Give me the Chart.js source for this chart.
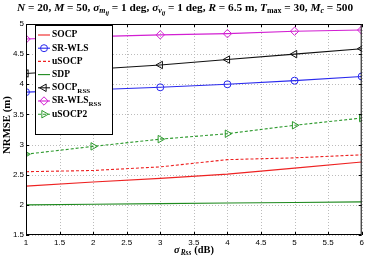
<!DOCTYPE html>
<html>
<head>
<meta charset="utf-8">
<script src="https://cdn.jsdelivr.net/npm/chart.js@4.4.1/dist/chart.umd.min.js"></script>
<style>
  body { margin: 0; background: #fff; }
  #wrap { position: relative; width: 367px; height: 257px; }
  .lab { position: absolute; font-family: "Liberation Serif", "Times New Roman", serif; font-weight: bold; color: #000; white-space: nowrap; }
  .lab sub { font-size: 70%; vertical-align: -0.3em; line-height: 0; }
  .lab sub sub { font-size: 80%; vertical-align: -0.25em; }
</style>
</head>
<body>
<div id="wrap">
  <canvas id="c" width="367" height="257"></canvas>
  <div class="lab" id="title" style="left:0;width:370px;top:1px;text-align:center;font-size:11.3px;">
    <i>N</i> = 20, <i>M</i> = 50, <i>σ</i><sub><i>m</i><sub><i>ij</i></sub></sub> = 1 deg, <i>σ</i><sub><i>v</i><sub><i>ij</i></sub></sub> = 1 deg, <i>R</i> = 6.5 m, <i>T</i><sub>max</sub> = 30, <i>M</i><sub><i>c</i></sub> = 500
  </div>
  <div class="lab" id="ylab" style="left:-24px;top:119px;width:60px;text-align:center;font-size:10.8px;transform:rotate(-90deg);">NRMSE (m)</div>
  <div class="lab" id="xlab" style="left:144px;width:100px;top:244px;text-align:center;font-size:10.4px;"><i>σ</i><sub><i style="margin-left:1px;margin-right:3px;">Rss</i></sub>(dB)</div>
</div>
<script>
// x axis: sigma_Rss (dB)
var xValues = [1, 2, 3, 4, 5, 6];

var socp     = [2.31, 2.38, 2.44, 2.51, 2.61, 2.71];
var srwls    = [3.87, 3.91, 3.95, 4.00, 4.06, 4.13];
var usocp    = [2.55, 2.57, 2.63, 2.75, 2.78, 2.83];
var sdp      = [2.00, 2.01, 2.02, 2.03, 2.04, 2.05];
var socpRss  = [4.18, 4.25, 4.32, 4.41, 4.50, 4.59];
var srwlsRss = [4.75, 4.79, 4.82, 4.84, 4.88, 4.90];
var usocp2   = [2.84, 2.97, 3.09, 3.18, 3.32, 3.44];

// legend names: [main, subscript]
var names = [["SOCP", ""], ["SR-WLS", ""], ["uSOCP", ""], ["SDP", ""],
             ["SOCP", "RSS"], ["SR-WLS", "RSS"], ["uSOCP2", ""]];

function pts(ys) {
  return xValues.map(function (x, i) { return { x: x, y: ys[i] }; });
}

function series(i, ys, color, dash, marker, rot, r) {
  return {
    label: names[i][0] + names[i][1],
    data: pts(ys),
    borderColor: color,
    backgroundColor: "rgba(0,0,0,0)",
    borderWidth: 1.1,
    borderDash: dash,
    pointStyle: marker || false,
    pointRotation: rot || 0,
    pointRadius: marker ? r : 0,
    pointBorderWidth: 1,
    pointBorderColor: color,
    pointBackgroundColor: "rgba(0,0,0,0)",
    tension: 0
  };
}

var datasets = [
  series(0, socp, "#ee2222", [], null),
  series(1, srwls, "#2a2aee", [], "circle", 0, 3.5),
  series(2, usocp, "#ee2222", [3, 2], null),
  series(3, sdp, "#1e8a1e", [], null),
  series(4, socpRss, "#111111", [], "triangle", -90, 4.3),
  series(5, srwlsRss, "#d21fd2", [], "rectRot", 0, 4.2),
  series(6, usocp2, "#2e9a2e", [3, 2], "triangle", 90, 4.3)
];

// dotted grid, drawn under the lines
var grid = {
  id: "dotgrid",
  beforeDatasetsDraw: function (chart) {
    var ctx = chart.ctx, a = chart.chartArea;
    var xs = chart.scales.x, ys = chart.scales.y;
    ctx.save();
    ctx.strokeStyle = "#bcbcbc";
    ctx.lineWidth = 1;
    ctx.setLineDash([1, 2]);
    ctx.beginPath();
    xs.ticks.forEach(function (t) {
      var px = Math.round(xs.getPixelForValue(t.value)) + 0.5;
      ctx.moveTo(px, a.top); ctx.lineTo(px, a.bottom);
    });
    ys.ticks.forEach(function (t) {
      var py = Math.round(ys.getPixelForValue(t.value)) + 0.5;
      ctx.moveTo(a.left, py); ctx.lineTo(a.right, py);
    });
    ctx.stroke();
    ctx.restore();
  }
};

// box + inward ticks like matlab
var frame = {
  id: "frame",
  afterDatasetsDraw: function (chart) {
    var ctx = chart.ctx, a = chart.chartArea;
    var xs = chart.scales.x, ys = chart.scales.y;
    ctx.save();
    ctx.strokeStyle = "#000";
    ctx.lineWidth = 1;
    ctx.strokeRect(a.left + 0.5, a.top + 0.5, a.right - a.left - 1, a.bottom - a.top - 1);
    ctx.beginPath();
    xs.ticks.forEach(function (t) {
      var px = Math.round(xs.getPixelForValue(t.value)) + 0.5;
      ctx.moveTo(px, a.bottom); ctx.lineTo(px, a.bottom - 3);
      ctx.moveTo(px, a.top); ctx.lineTo(px, a.top + 3);
    });
    ys.ticks.forEach(function (t) {
      var py = Math.round(ys.getPixelForValue(t.value)) + 0.5;
      ctx.moveTo(a.left, py); ctx.lineTo(a.left + 3, py);
      ctx.moveTo(a.right, py); ctx.lineTo(a.right - 3, py);
    });
    ctx.stroke();
    ctx.restore();
  }
};

var legendBox = {
  id: "legendBox",
  afterDraw: function (chart) {
    var ctx = chart.ctx;
    var bx = 35, by = 25, bw = 77, bh = 109;
    ctx.save();
    ctx.fillStyle = "#fff";
    ctx.fillRect(bx, by, bw, bh);
    ctx.strokeStyle = "#000";
    ctx.lineWidth = 1;
    ctx.strokeRect(bx + 0.5, by + 0.5, bw, bh);
    chart.data.datasets.forEach(function (ds, i) {
      var y = by + 10 + i * 13.2;
      ctx.strokeStyle = ds.borderColor;
      ctx.lineWidth = ds.borderWidth;
      ctx.setLineDash(ds.borderDash);
      ctx.beginPath();
      ctx.moveTo(bx + 3, y); ctx.lineTo(bx + 15, y);
      ctx.stroke();
      ctx.setLineDash([]);
      if (ds.pointStyle) {
        ctx.fillStyle = "rgba(0,0,0,0)";
        ctx.lineWidth = 1;
        Chart.helpers.drawPoint(ctx, {
          pointStyle: ds.pointStyle, rotation: ds.pointRotation,
          radius: ds.pointRadius, borderWidth: 1
        }, bx + 9, y);
      }
      ctx.fillStyle = "#000";
      ctx.textBaseline = "middle";
      ctx.font = "bold 9.5px 'Liberation Serif', serif";
      ctx.fillText(names[i][0], bx + 17, y);
      if (names[i][1]) {
        var w = ctx.measureText(names[i][0]).width;
        ctx.font = "bold 7px 'Liberation Serif', serif";
        ctx.fillText(names[i][1], bx + 17 + w, y + 3);
      }
    });
    ctx.restore();
  }
};

var tickFont = { family: "'Liberation Sans', Arial", size: 8 };

var chart = new Chart("c", {
  type: "line",
  data: { datasets: datasets },
  options: {
    responsive: false,
    animation: false,
    layout: { padding: { top: 24, right: 4, left: 0, bottom: 0 } },
    plugins: { legend: { display: false }, title: { display: false }, tooltip: { enabled: false } },
    scales: {
      x: {
        type: "linear", min: 1, max: 6,
        ticks: { stepSize: 0.5, color: "#000", font: tickFont, padding: 3, maxRotation: 0,
                 callback: function (v) { return String(v); } },
        grid: { display: false, drawTicks: false },
        border: { display: false },
        afterFit: function (s) { s.height = 22; }
      },
      y: {
        min: 1.5, max: 5,
        ticks: { stepSize: 0.5, color: "#000", font: tickFont, padding: 2,
                 callback: function (v) { return String(v); } },
        grid: { display: false, drawTicks: false },
        border: { display: false },
        afterFit: function (s) { s.width = 26; }
      }
    }
  },
  plugins: [grid, frame, legendBox]
});
</script>
</body>
</html>
